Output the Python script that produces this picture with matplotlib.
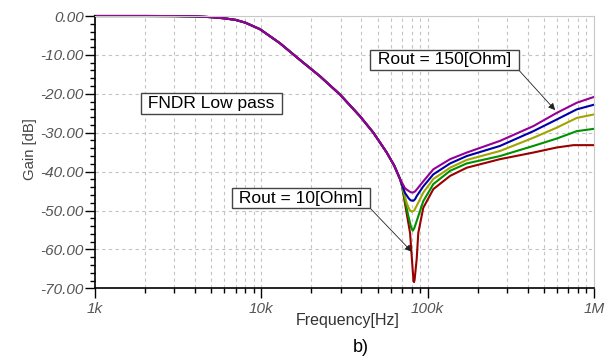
import matplotlib
matplotlib.use("Agg")
import matplotlib.pyplot as plt
import numpy as np
from matplotlib.ticker import FixedLocator, NullFormatter, MultipleLocator, FormatStrFormatter

plt.rcParams['font.family'] = ['Liberation Sans', 'DejaVu Sans']
plt.rcParams['axes.unicode_minus'] = False

# common low-pass part (all curves overlap here)
f_common = [1e3, 2e3, 3e3, 4e3, 5e3, 6e3, 7e3, 8e3, 9.82e3, 12.94e3, 17.08e3,
            22.54e3, 29.74e3, 39.25e3, 47.15e3, 56.75e3, 63e3, 68.2e3]
g_common = [0.0, 0.0, -0.02, -0.1, -0.3, -0.6, -1.0, -1.7, -3.4, -7.0, -11.3,
            -15.5, -20.2, -25.8, -30.0, -35.1, -38.5, -41.9]

# notch + high-frequency part of each curve
f_150 = [73.1e3, 77e3, 79.1e3, 81.3e3, 84e3, 85.9e3, 94.1e3, 108.2e3, 136.4e3,
         171.8e3, 272.3e3, 432.1e3, 597.5e3, 788e3, 1e6]
g_150 = [-44.3, -45.0, -45.3, -45.4, -45.1, -44.6, -42.5, -39.4, -36.8,
         -35.1, -32.1, -28.3, -24.9, -22.3, -20.8]

f_100 = [73.1e3, 77e3, 79.1e3, 82e3, 84e3, 85.9e3, 94.1e3, 108.2e3, 136.4e3,
         171.8e3, 272.3e3, 432.1e3, 597.5e3, 788e3, 1e6]
g_100 = [-45.5, -46.9, -47.4, -47.5, -47.1, -46.3, -43.8, -40.7, -37.9,
         -36.0, -33.4, -29.6, -26.6, -24.0, -22.8]

f_50 = [70e3, 74.8e3, 78e3, 80.2e3, 83e3, 85.9e3, 94.1e3, 108.2e3, 136.4e3,
        171.8e3, 272.3e3, 432.1e3, 597.5e3, 788e3, 1e6]
g_50 = [-43.3, -48.1, -49.9, -50.3, -50.0, -48.8, -45.4, -41.9, -39.0,
        -37.0, -34.7, -31.3, -28.7, -26.2, -25.3]

f_25 = [70e3, 76.6e3, 79.5e3, 81.3e3, 83e3, 85.9e3, 94.1e3, 108.2e3, 136.4e3,
        171.8e3, 272.3e3, 432.1e3, 597.5e3, 788e3, 1e6]
g_25 = [-43.5, -51.5, -54.3, -55.2, -54.6, -52.7, -47.6, -43.2, -39.8,
        -37.9, -36.0, -33.4, -31.5, -29.6, -29.0]

f_10 = [70e3, 78.4e3, 80.2e3, 82.2e3, 82.8e3, 83.4e3, 85.9e3, 87.8e3, 94.1e3, 108.2e3,
        136.4e3, 171.8e3, 272.3e3, 432.1e3, 597.5e3, 752e3, 1e6]
g_10 = [-43.6, -55.8, -61.8, -68.2, -68.4, -67.9, -62.5, -55.8, -49.3, -44.5,
        -41.1, -39.0, -36.8, -35.1, -33.8, -33.2, -33.2]

curves = [(f_10, g_10, '#990000'), (f_25, g_25, '#009100'), (f_50, g_50, '#a3a300'),
          (f_100, g_100, '#0000aa'), (f_150, g_150, '#960096')]

xticks = [1e3, 1e4, 1e5, 1e6]
xticklabels = ['1k', '10k', '100k', '1M']

fig = plt.figure(figsize=(6.11, 3.58), dpi=100)
ax = fig.add_axes([95/611, 1-288.3/358, (594-95)/611, (288.3-16)/358])

for f, g, c in curves:
    ax.plot(f_common + f, g_common + g, color=c, lw=1.5, clip_on=False)

ax.set_xscale('log')
ax.set_xlim(1e3, 1e6)
ax.set_ylim(-70, 0)

ax.xaxis.set_major_locator(FixedLocator(xticks))
ax.set_xticklabels(xticklabels)
ax.xaxis.set_minor_locator(FixedLocator([m*10**e for e in (3, 4, 5) for m in range(2, 10)]))
ax.xaxis.set_minor_formatter(NullFormatter())
ax.yaxis.set_major_locator(MultipleLocator(10))
ax.yaxis.set_minor_locator(MultipleLocator(2))
ax.yaxis.set_major_formatter(FormatStrFormatter('%.2f'))

ax.tick_params(which='major', length=7, width=1, color='black', direction='out')
ax.tick_params(which='minor', length=3.5, width=1, color='black', direction='out')
for lab in ax.get_xticklabels() + ax.get_yticklabels():
    lab.set_fontstyle('italic')
    lab.set_fontsize(11)
    lab.set_color('#555555')
ax.tick_params(axis='x', pad=3)
ax.tick_params(axis='y', pad=1)

ax.grid(which='major', axis='both', ls=(0, (3, 3)), color='#c4c4c4', lw=0.8)
ax.grid(which='minor', axis='x', ls=(0, (3, 3)), color='#c4c4c4', lw=0.8)
ax.set_axisbelow(True)

ax.spines['left'].set_color('black')
ax.spines['bottom'].set_color('black')
ax.spines['left'].set_linewidth(1.2)
ax.spines['bottom'].set_linewidth(1.2)
ax.spines['top'].set_color('#c8c8c8')
ax.spines['right'].set_color('#c8c8c8')

fig.text(30/611, 1-149/358, 'Gain [dB]', rotation=90, ha='center', va='center',
         fontsize=10.7, color='#444444')
fig.text(348/611, 1-321/358, 'Frequency[Hz]', ha='center', va='center',
         fontsize=11.5, color='#333333')
fig.text(361/611, 1-347/358, 'b)', ha='center', va='center', fontsize=13, color='black')

box = dict(boxstyle='square,pad=0.15', fc='white', ec='#444444', lw=1)
arrow = dict(arrowstyle='-|>', color='#222222', lw=0.6, mutation_scale=10, shrinkA=0, shrinkB=0)

ax.text(5000, -22.5, ' FNDR Low pass ', ha='center', va='center', fontsize=12.5, bbox=box)
ax.annotate(' Rout = 150[Ohm] ', xy=(584e3, -24.2), xytext=(126.5e3, -11.25),
            ha='center', va='center', fontsize=12.5, bbox=box,
            arrowprops=dict(arrow, relpos=(1.0, 0.0)))
ax.annotate(' Rout = 10[Ohm] ', xy=(80.2e3, -60.6), xytext=(17.3e3, -46.8),
            ha='center', va='center', fontsize=12.5, bbox=box,
            arrowprops=dict(arrow, relpos=(1.0, 0.0)))

fig.savefig('out.png', dpi=100, facecolor='white')
